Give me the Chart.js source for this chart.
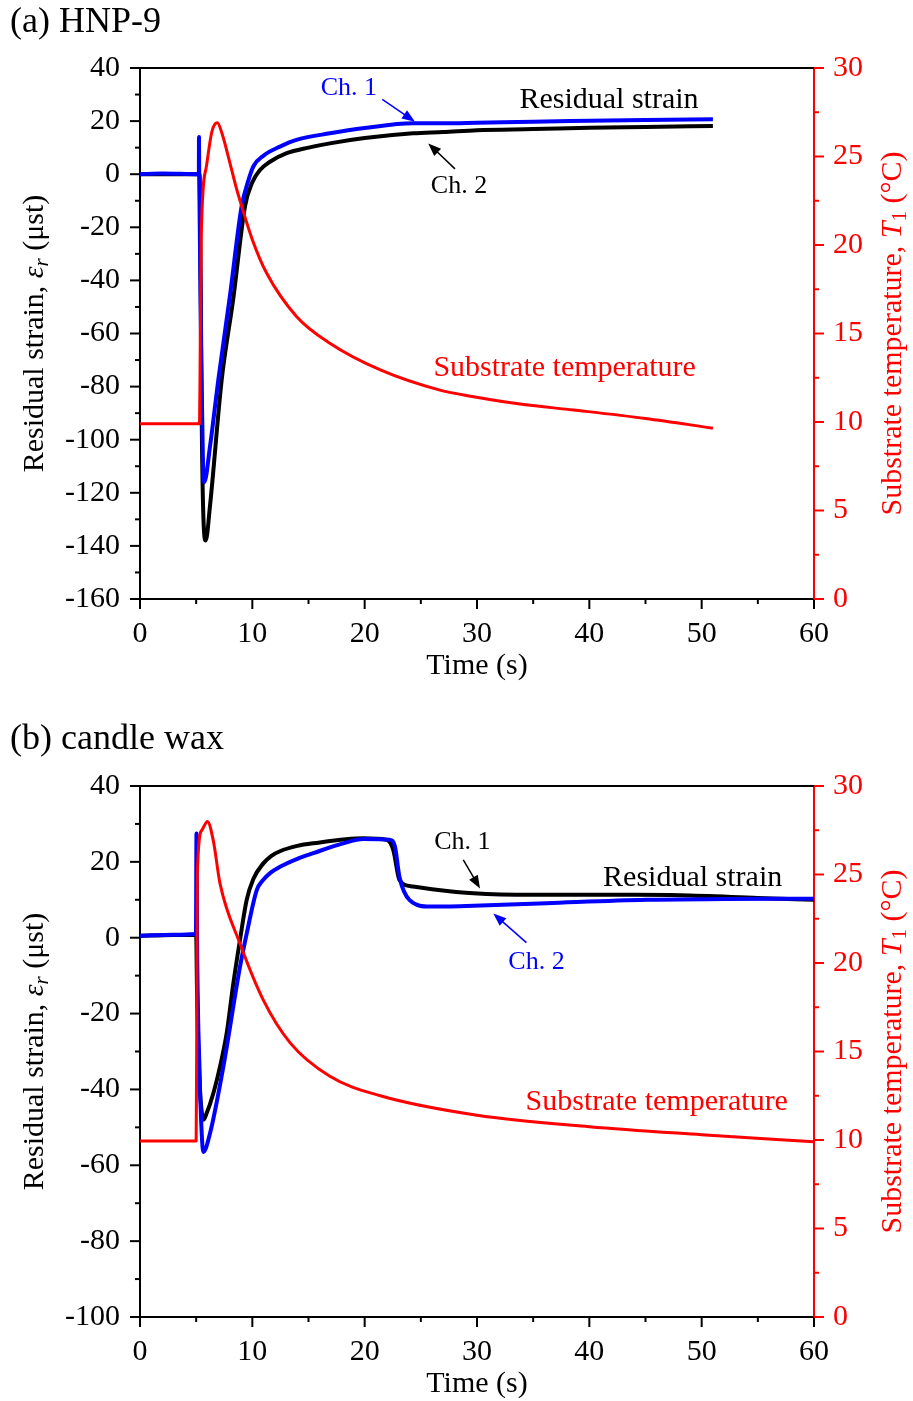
<!DOCTYPE html>
<html>
<head>
<meta charset="utf-8">
<script src="https://cdn.jsdelivr.net/npm/chart.js@4.4.1/dist/chart.umd.min.js"></script>
<style>
  body { margin: 0; background: #fff; }
  .panel { position: absolute; left: 0; width: 913px; }
</style>
</head>
<body>
<div class="panel" style="top:0;height:700px"><canvas id="chartA" width="913" height="700"></canvas></div>
<div class="panel" style="top:700px;height:701px"><canvas id="chartB" width="913" height="701"></canvas></div>
<script>
// (a) HNP-9 -- residual strain (µst) and substrate temperature (°C) vs time (s)
const timeA1   = [0, 2, 5.24, 5.25, 5.27, 5.45, 5.62, 5.72, 6.23, 6.97, 8.0, 9.05, 9.6, 10.1, 11, 12.46, 14, 16.9, 20, 24.3, 27, 30, 35, 40, 45, 51];
const strainA1 = [0, 0.3, 0, 14, 0, -70, -112, -116, -102.6, -77.5, -46, -12, -3, 3, 7, 10.4, 13, 15.4, 17.4, 19.2, 19.2, 19.4, 19.8, 20.1, 20.4, 20.7];

const timeA2   = [0, 5.3, 5.4, 5.5, 5.65, 5.85, 6.23, 7.27, 8.3, 9.35, 10, 10.68, 11.5, 13.06, 15, 16.9, 20, 24.3, 27, 30, 35, 40, 45, 51];
const strainA2 = [0, 0, -40, -95, -130, -138, -125, -77.5, -47, -12, -3, 1.6, 4.5, 7.9, 10, 11.6, 13.6, 15.4, 15.9, 16.6, 17, 17.5, 17.8, 18.2];

const timeA3 = [0, 5.3, 5.36, 5.45, 5.9, 6.4, 6.88, 7.3, 7.9, 8.5, 9.05, 10.0, 11.28, 13.95, 16.9, 21.4, 26.7, 29.7, 34, 38.6, 45, 51];
const tempA3 = [9.9, 9.9, 14, 20.5, 24.4, 26.4, 26.9, 26.3, 24.9, 23.4, 22.2, 20.3, 18.4, 15.95, 14.45, 12.94, 11.8, 11.43, 11.0, 10.68, 10.2, 9.65];

// (b) candle wax
const timeB1   = [0, 3, 5.0, 5.08, 5.3, 5.5, 5.64, 5.93, 6.53, 7.12, 7.71, 8.31, 8.9, 9.5, 10.09, 10.98, 11.7, 12.46, 14, 15.43, 19.9, 21.96, 22.55, 23.1, 24.3, 26, 29.7, 35, 39.2, 44, 48.1, 55, 60];
const strainB1 = [0.5, 0.7, 0.8, -15, -38, -46, -48, -46.3, -41, -34, -25.3, -12, -0.6, 10, 15.5, 19.6, 21.6, 22.8, 24.2, 24.9, 26.2, 25.8, 23.1, 15.2, 13.5, 12.8, 11.7, 11.3, 11.3, 11.3, 11.2, 10.5, 10];

const timeB2   = [0, 3, 4.98, 5.03, 5.08, 5.3, 5.5, 5.64, 6.23, 7.42, 8.9, 9.5, 10.4, 10.9, 11.6, 12.46, 14, 15.43, 18, 19.9, 22.25, 22.7, 23.1, 24.0, 25.8, 27.3, 29.7, 36.2, 45.1, 52, 60];
const strainB2 = [0.5, 0.8, 1, 27.5, 0, -35, -52, -56.5, -51.6, -34, -7.7, 1.1, 12.6, 15.0, 17.1, 18.7, 20.8, 22.3, 24.8, 26, 25.8, 24, 16, 9.9, 8.2, 8.2, 8.4, 9.1, 10, 10.2, 10.3];

const timeB3 = [0, 5.0, 5.05, 5.1, 5.5, 6.0, 6.53, 7.12, 8.9, 10.98, 13.35, 16.9, 21.4, 30, 40, 50, 60];
const tempB3 = [9.95, 9.95, 16, 25, 27.5, 28, 26.9, 24.5, 21.1, 17.9, 15.5, 13.6, 12.5, 11.4, 10.75, 10.3, 9.9];

const FONT = "'Liberation Serif', 'Times New Roman', serif";
const BLUE = '#0000ff', RED = '#ff0000', BLACK = '#000000';

function pts(xs, ys) {
    return xs.map((x, i) => ({ x: x, y: ys[i] }));
}

function arrow(ctx, x1, y1, x2, y2, color) {
    const ang = Math.atan2(y2 - y1, x2 - x1), L = 13, W = 5;
    ctx.strokeStyle = color;
    ctx.fillStyle = color;
    ctx.lineWidth = 1.5;
    ctx.beginPath();
    ctx.moveTo(x1, y1);
    ctx.lineTo(x2 - L * 0.8 * Math.cos(ang), y2 - L * 0.8 * Math.sin(ang));
    ctx.stroke();
    ctx.beginPath();
    ctx.moveTo(x2, y2);
    ctx.lineTo(x2 - L * Math.cos(ang) + W * Math.sin(ang), y2 - L * Math.sin(ang) - W * Math.cos(ang));
    ctx.lineTo(x2 - L * Math.cos(ang) - W * Math.sin(ang), y2 - L * Math.sin(ang) + W * Math.cos(ang));
    ctx.closePath();
    ctx.fill();
}

// text made of runs with different fonts (italic symbols, subscripts)
function richText(ctx, runs, x, y, color) {
    ctx.save();
    ctx.translate(x, y);
    ctx.rotate(-Math.PI / 2);
    ctx.fillStyle = color;
    ctx.textBaseline = 'middle';
    ctx.textAlign = 'left';
    let w = 0;
    runs.forEach(r => { ctx.font = r.font; w += ctx.measureText(r.text).width; });
    let cx = -w / 2;
    runs.forEach(r => {
        ctx.font = r.font;
        ctx.fillText(r.text, cx, r.dy || 0);
        cx += ctx.measureText(r.text).width;
    });
    ctx.restore();
}

function drawTicks(ctx, scale, side, color) {
    ctx.strokeStyle = color;
    ctx.lineWidth = 2;
    scale.ticks.forEach(t => {
        const p = scale.getPixelForValue(t.value);
        const len = t.label !== '' ? 10 : 5;
        ctx.beginPath();
        if (side === 'bottom') { ctx.moveTo(p, scale.top); ctx.lineTo(p, scale.top + len); }
        if (side === 'left') { ctx.moveTo(scale.right, p); ctx.lineTo(scale.right - len, p); }
        if (side === 'right') { ctx.moveTo(scale.left, p); ctx.lineTo(scale.left + len, p); }
        ctx.stroke();
    });
}

const framePlugin = {
    id: 'frame',
    afterDraw(chart, args, opts) {
        const { ctx, chartArea: a, scales } = chart;
        ctx.save();
        // top border
        ctx.strokeStyle = BLACK;
        ctx.lineWidth = 2;
        ctx.beginPath();
        ctx.moveTo(a.left, a.top);
        ctx.lineTo(a.right, a.top);
        ctx.stroke();

        drawTicks(ctx, scales.x, 'bottom', BLACK);
        drawTicks(ctx, scales.y, 'left', BLACK);
        drawTicks(ctx, scales.t, 'right', RED);

        // panel label
        ctx.fillStyle = BLACK;
        ctx.font = '36px ' + FONT;
        ctx.textAlign = 'left';
        ctx.textBaseline = 'middle';
        ctx.fillText(opts.label, 10, opts.labelY);

        // axis titles
        ctx.font = '30px ' + FONT;
        ctx.textAlign = 'center';
        ctx.fillText('Time (s)', (a.left + a.right) / 2, a.bottom + 67);

        const n = '30px ' + FONT, it = 'italic 30px ' + FONT;
        richText(ctx, [
            { text: 'Residual strain, ', font: n },
            { text: 'ε', font: it },
            { text: 'r', font: 'italic 21px ' + FONT, dy: 7 },
            { text: ' (μst)', font: n }
        ], 35, (a.top + a.bottom) / 2, BLACK);
        richText(ctx, [
            { text: 'Substrate temperature, ', font: n },
            { text: 'T', font: it },
            { text: '1', font: '21px ' + FONT, dy: 7 },
            { text: ' (°C)', font: n }
        ], 893, (a.top + a.bottom) / 2, RED);

        // notes and arrows, placed in data units
        opts.notes.forEach(nt => {
            const ys = scales[nt.axis || 'y'];
            ctx.fillStyle = nt.color;
            ctx.font = nt.size + 'px ' + FONT;
            ctx.textAlign = 'center';
            ctx.textBaseline = 'middle';
            ctx.fillText(nt.text, scales.x.getPixelForValue(nt.x), ys.getPixelForValue(nt.y));
            if (nt.arrow) {
                const [x1, y1, x2, y2] = nt.arrow;
                arrow(ctx, scales.x.getPixelForValue(x1), ys.getPixelForValue(y1),
                      scales.x.getPixelForValue(x2), ys.getPixelForValue(y2), nt.color);
            }
        });
        ctx.restore();
    }
};

function makeChart(id, cfg) {
    const tickFont = { family: FONT, size: 30 };
    const line = (label, data, color, axis, width) => ({
        label: label,
        data: data,
        yAxisID: axis,
        borderColor: color,
        borderWidth: width,
        borderJoinStyle: 'round',
        pointRadius: 0,
        fill: false,
        cubicInterpolationMode: 'monotone'
    });
    return new Chart(document.getElementById(id), {
        type: 'line',
        data: {
            datasets: [
                line('Substrate temperature', cfg.temp, RED, 't', 3),
                line(cfg.blueName, cfg.blue, BLUE, 'y', 4),
                line(cfg.blackName, cfg.black, BLACK, 'y', 4)
            ]
        },
        options: {
            responsive: false,
            animation: false,
            layout: { padding: { top: cfg.top, left: 0, right: 0, bottom: 0 } },
            plugins: {
                legend: { display: false },
                tooltip: { enabled: false },
                frame: { label: cfg.label, labelY: cfg.labelY, notes: cfg.notes }
            },
            scales: {
                x: {
                    type: 'linear', position: 'bottom', min: 0, max: 60,
                    grid: { display: false, drawTicks: false },
                    border: { display: true, color: BLACK, width: 2 },
                    ticks: {
                        stepSize: 5, autoSkip: false, maxRotation: 0, padding: 17,
                        color: BLACK, font: tickFont,
                        callback: v => (v % 10 === 0 ? String(v) : '')
                    },
                    afterFit: s => { s.height = cfg.bottom; }
                },
                y: {
                    type: 'linear', position: 'left', min: cfg.yMin, max: cfg.yMax,
                    grid: { display: false, drawTicks: false },
                    border: { display: true, color: BLACK, width: 2 },
                    ticks: {
                        stepSize: 10, autoSkip: false, padding: 20,
                        color: BLACK, font: tickFont,
                        callback: v => (v % 20 === 0 ? String(v) : '')
                    },
                    afterFit: s => { s.width = 140; }
                },
                t: {
                    type: 'linear', position: 'right', min: 0, max: 30,
                    grid: { display: false, drawTicks: false },
                    border: { display: true, color: RED, width: 2 },
                    ticks: {
                        stepSize: 2.5, autoSkip: false, padding: 19,
                        color: RED, font: tickFont,
                        callback: v => (v % 5 === 0 ? String(v) : '')
                    },
                    afterFit: s => { s.width = 99; }
                }
            }
        },
        plugins: [framePlugin]
    });
}

makeChart('chartA', {
    label: '(a) HNP-9', labelY: 23, top: 68, bottom: 101,
    yMin: -160, yMax: 40,
    temp: pts(timeA3, tempA3),
    blue: pts(timeA1, strainA1), blueName: 'Ch. 1',
    black: pts(timeA2, strainA2), blackName: 'Ch. 2',
    notes: [
        { text: 'Ch. 1', color: BLUE, size: 26, x: 18.6, y: 32.5, arrow: [21.57, 28.2, 24.48, 19.8] },
        { text: 'Residual strain', color: BLACK, size: 30, x: 41.75, y: 27.9 },
        { text: 'Ch. 2', color: BLACK, size: 26, x: 28.4, y: -4.4, arrow: [28.04, 2.0, 25.66, 11.6] },
        { text: 'Substrate temperature', color: RED, size: 30, x: 37.8, y: 13.05, axis: 't' }
    ]
});

makeChart('chartB', {
    label: '(b) candle wax', labelY: 40, top: 86, bottom: 84,
    yMin: -100, yMax: 40,
    temp: pts(timeB3, tempB3),
    blue: pts(timeB2, strainB2), blueName: 'Ch. 2',
    black: pts(timeB1, strainB1), blackName: 'Ch. 1',
    notes: [
        { text: 'Ch. 1', color: BLACK, size: 26, x: 28.7, y: 25.2, arrow: [28.78, 20.5, 30.27, 13.0] },
        { text: 'Residual strain', color: BLACK, size: 30, x: 49.2, y: 15.7 },
        { text: 'Ch. 2', color: BLUE, size: 26, x: 35.3, y: -6.4, arrow: [34.4, -1.3, 31.45, 6.4] },
        { text: 'Substrate temperature', color: RED, size: 30, x: 46.0, y: 12.15, axis: 't' }
    ]
});
</script>
</body>
</html>
